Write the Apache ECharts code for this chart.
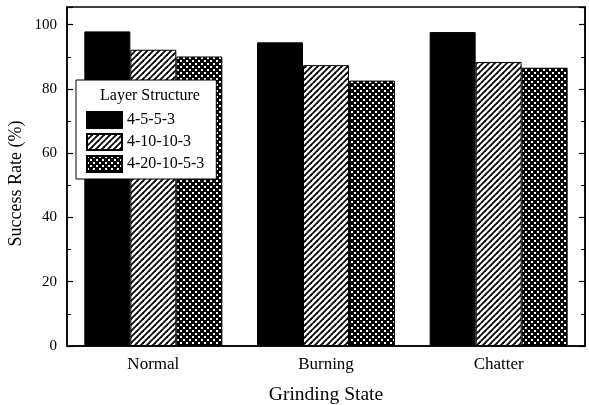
<!DOCTYPE html>
<html>
<head>
<meta charset="utf-8">
<script src="https://cdn.jsdelivr.net/npm/echarts@6/dist/echarts.min.js"></script>
<style>html,body{margin:0;padding:0;background:#fff}#c{width:589px;height:405px}</style>
</head>
<body>
<div id="c"></div>
<script>
const categories = ['Normal', 'Burning', 'Chatter'];
const seriesNames = ['4-5-5-3', '4-10-10-3', '4-20-10-5-3'];
const values453 = [97.9, 94.5, 97.7];
const values410 = [92.2, 87.4, 88.4];
const values420 = [90.1, 82.6, 86.6];
const yTicks = [0, 20, 40, 60, 80, 100];

function hatchPattern() {
  const s = 6;
  const c = document.createElement('canvas');
  c.width = s; c.height = s;
  const g = c.getContext('2d');
  g.fillStyle = '#fff'; g.fillRect(0, 0, s, s);
  g.strokeStyle = '#000'; g.lineWidth = 1.8;
  for (let k = -1; k <= 1; k++) {
    g.beginPath();
    g.moveTo(k * s - 1, s + 1);
    g.lineTo(k * s + s + 1, -1);
    g.stroke();
  }
  return { image: c, repeat: 'repeat' };
}
function dotPattern() {
  const s = 6;
  const c = document.createElement('canvas');
  c.width = s; c.height = s;
  const g = c.getContext('2d');
  g.fillStyle = '#000'; g.fillRect(0, 0, s, s);
  g.fillStyle = '#fff';
  g.fillRect(0, 0, 2, 2);
  g.fillRect(3, 3, 2, 2);
  return { image: c, repeat: 'repeat' };
}

const font = '"Liberation Serif", "Times New Roman", serif';
const chart = echarts.init(document.getElementById('c'), null, { renderer: 'canvas' });
const fills = ['#000', hatchPattern(), dotPattern()];
const data = [values453, values410, values420];

const yCommon = {
  type: 'value', min: 0, max: 105.5, interval: 20,
  splitLine: { show: false },
  axisLine: { show: true, lineStyle: { color: '#000', width: 1.5 } },
  axisTick: { show: true, inside: true, length: 6, lineStyle: { color: '#000', width: 1.2 } },
  minorTick: { show: true, splitNumber: 2, length: 4, lineStyle: { color: '#000', width: 1 } }
};

chart.setOption({
  animation: false,
  backgroundColor: '#fff',
  grid: { left: 67, right: 4, top: 7, bottom: 59, containLabel: false, outerBoundsMode: 'none',
    show: true, borderColor: '#000', borderWidth: 1.5, backgroundColor: 'transparent' },
  legend: {
    orient: 'vertical', left: 76, top: 80,
    padding: [31, 12, 6, 10],
    itemWidth: 35, itemHeight: 16, itemGap: 4,
    backgroundColor: '#fff', borderColor: '#000', borderWidth: 1,
    textStyle: { fontFamily: font, fontSize: 16, color: '#000' },
    data: seriesNames.map(n => ({ name: n, icon: 'rect' }))
  },
  graphic: [{
    type: 'text', left: 100, top: 88, z: 100,
    style: { text: 'Layer Structure', font: '16px ' + font, fill: '#000' }
  }],
  xAxis: {
    type: 'category', data: categories,
    name: 'Grinding State', nameLocation: 'middle', nameGap: 39, nameMoveOverlap: false,
    nameTextStyle: { fontFamily: font, fontSize: 19.5, color: '#000' },
    axisLine: { lineStyle: { color: '#000', width: 1.5 } },
    axisTick: { show: false },
    axisLabel: { fontFamily: font, fontSize: 17, color: '#000', margin: 10 }
  },
  yAxis: [
    Object.assign({}, yCommon, {
      position: 'left',
      name: 'Success Rate (%)', nameLocation: 'middle', nameGap: 42, nameMoveOverlap: false,
      nameTextStyle: { fontFamily: font, fontSize: 18, color: '#000', padding: [0, 14, 0, 0] },
      axisLabel: { fontFamily: font, fontSize: 15, color: '#000', margin: 10,
        formatter: v => (yTicks.indexOf(v) >= 0 ? String(v) : '') }
    }),
    Object.assign({}, yCommon, {
      position: 'right',
      axisLabel: { show: false }
    })
  ],
  series: seriesNames.map((n, i) => ({
    name: n, type: 'bar', data: data[i], yAxisIndex: 0,
    barWidth: 46, barGap: '0%', barCategoryGap: '19%',
    itemStyle: { color: fills[i], borderColor: '#000', borderWidth: 1 }
  }))
});
</script>
</body>
</html>
